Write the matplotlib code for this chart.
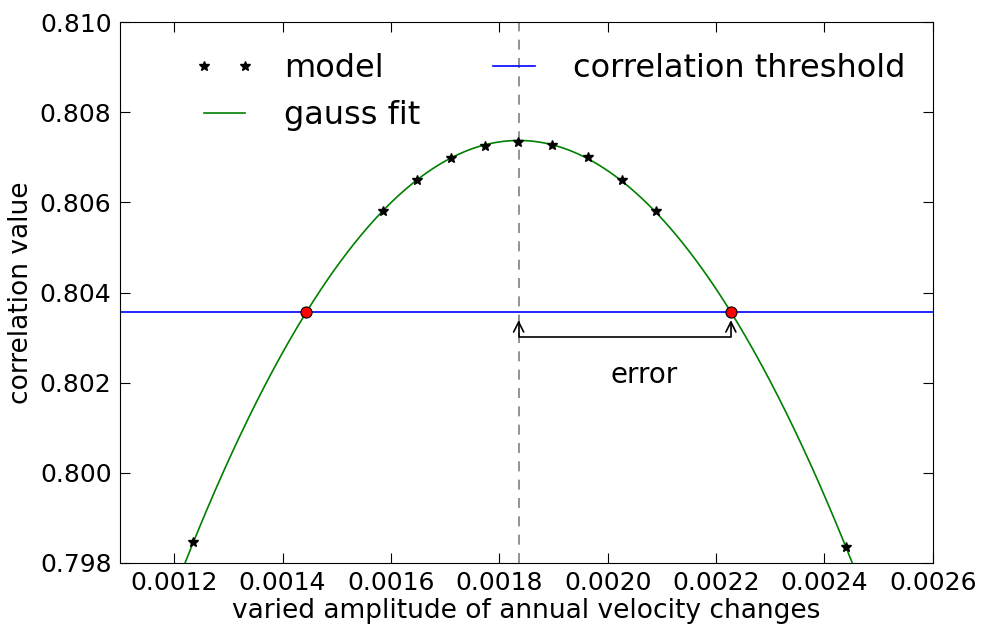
import numpy as np
import matplotlib
matplotlib.use("Agg")
import matplotlib.pyplot as plt

# model runs: amplitude vs correlation value
amplitude = np.array([0.0012352, 0.0015852, 0.0016481, 0.0017111, 0.0017741,
                      0.0018352, 0.0018981, 0.0019630, 0.0020259, 0.0020889,
                      0.0024389])
correlation = np.array([0.798465, 0.805807, 0.806495, 0.806983, 0.807249,
                        0.807338, 0.807271, 0.807005, 0.806495, 0.805807,
                        0.798354])
threshold = 0.803567

xticks = [0.0012, 0.0014, 0.0016, 0.0018, 0.0020, 0.0022, 0.0024, 0.0026]
yticks = [0.798, 0.800, 0.802, 0.804, 0.806, 0.808, 0.810]

# gauss fit: quadratic in log space
c2, c1, c0 = np.polyfit(amplitude, np.log(correlation), 2)
mu = -c1 / (2 * c2)
sig2 = -1. / (2 * c2)
amp = np.exp(c0 - c1**2 / (4 * c2))

xfit = np.linspace(0.0011, 0.0026, 500)
yfit = amp * np.exp(-(xfit - mu)**2 / (2 * sig2))

# crossings of the fit with the threshold
d = np.sqrt(-2 * sig2 * np.log(threshold / amp))
xcross = np.array([mu - d, mu + d])

plt.rcParams['font.family'] = 'DejaVu Sans'
f = plt.figure(figsize=(9.83, 6.25), dpi=100)
ax = f.add_axes([0.122, 0.0992, 0.827, 0.8656])

ax.plot(amplitude, correlation, '*', color='k', markersize=7, label='model', zorder=4)
ax.plot(xfit, yfit, color=(0, 0.5, 0), lw=1.2, label='gauss fit', zorder=3)
ax.axhline(threshold, color='b', lw=1.2, label='correlation threshold', zorder=2)
ax.axvline(mu, color='grey', ls='--', dashes=(6, 5), lw=1.2, zorder=1)
ax.plot(xcross, [threshold, threshold], 'o', color='r', mec='k', mew=0.8,
        markersize=8, zorder=5)

yarr = threshold - 0.00018
ax.annotate('', xy=(xcross[1], yarr), xytext=(mu, yarr),
            arrowprops=dict(arrowstyle='<->', color='k', lw=1.2,
                            shrinkA=0, shrinkB=0,
                            connectionstyle='bar,fraction=0.08',
                            mutation_scale=18))
ax.text(0.002068, 0.80217, 'error', fontsize=20,
        ha='center', va='center')

ax.set_xlim(0.0011, 0.0026)
ax.set_ylim(0.798, 0.810)
ax.set_xticks(xticks)
ax.set_yticks(yticks)
ax.set_xticklabels(['%.4f' % v for v in xticks])
ax.set_yticklabels(['%.3f' % v for v in yticks])
ax.tick_params(axis='both', direction='in', top=True, right=True,
               length=7, labelsize=18, pad=6)
ax.set_xlabel('varied amplitude of annual velocity changes', fontsize=19,
              labelpad=2)
ax.set_ylabel('correlation value', fontsize=19, labelpad=4)

ax.legend(loc='upper left', bbox_to_anchor=(0.056, 0.995), ncol=2, frameon=False,
          numpoints=2, fontsize=23, handlelength=1.9, handletextpad=0.9,
          columnspacing=2.0, labelspacing=0.5)

f.savefig('out.png', dpi=100)
